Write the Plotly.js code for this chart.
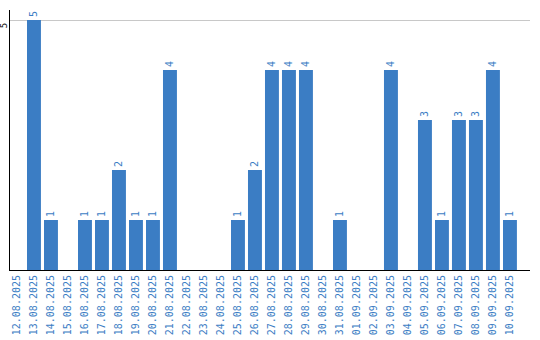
<!DOCTYPE html>
<html>
<head>
<meta charset="utf-8">
<script src="https://cdn.plot.ly/plotly-3.0.1.min.js"></script>
<style>html,body{margin:0;padding:0;background:#fff;}#chart{width:540px;height:340px;}</style>
</head>
<body>
<div id="chart"></div>
<script>
const dates = ["12.08.2025","13.08.2025","14.08.2025","15.08.2025","16.08.2025","17.08.2025","18.08.2025","19.08.2025","20.08.2025","21.08.2025","22.08.2025","23.08.2025","24.08.2025","25.08.2025","26.08.2025","27.08.2025","28.08.2025","29.08.2025","30.08.2025","31.08.2025","01.09.2025","02.09.2025","03.09.2025","04.09.2025","05.09.2025","06.09.2025","07.09.2025","08.09.2025","09.09.2025","10.09.2025"];
const counts = [0,5,1,0,1,1,2,1,1,4,0,0,0,1,2,4,4,4,0,1,0,0,4,0,3,1,3,3,4,1];
const labels = counts.map(v => v > 0 ? String(v) : "");

const trace = {
  type: "bar",
  x: dates,
  y: counts,
  text: labels,
  texttemplate: "%{text}",
  textposition: "outside",
  textangle: -90,
  cliponaxis: false,
  textfont: {family: "DejaVu Sans Mono", size: 10, color: "#3b7dc4"},
  marker: {color: "#3b7dc4"},
  hoverinfo: "skip"
};

const layout = {
  width: 540, height: 340,
  margin: {l: 10, r: 10, t: 10, b: 70},
  paper_bgcolor: "#fff", plot_bgcolor: "#fff",
  bargap: 0.18,
  showlegend: false,
  xaxis: {
    type: "category",
    range: [-0.41, 30.18],
    tickangle: -90,
    tickfont: {family: "DejaVu Sans Mono", size: 10, color: "#3b7dc4"},
    showline: true, linecolor: "#000", linewidth: 1,
    showgrid: false, ticks: "", automargin: false
  },
  yaxis: {
    range: [0, 5.2],
    tickvals: [5], ticktext: ["5"],
    tickangle: -90,
    tickfont: {family: "DejaVu Sans Mono", size: 9, color: "#000"},
    showline: true, linecolor: "#000", linewidth: 1,
    showgrid: true, gridcolor: "#c8c8c8", gridwidth: 1,
    zeroline: false, ticks: "", automargin: false,
    ticklabelstandoff: -2, ticklabelshift: 7
  }
};

Plotly.newPlot("chart", [trace], layout, {staticPlot: true, displayModeBar: false});
</script>
</body>
</html>
